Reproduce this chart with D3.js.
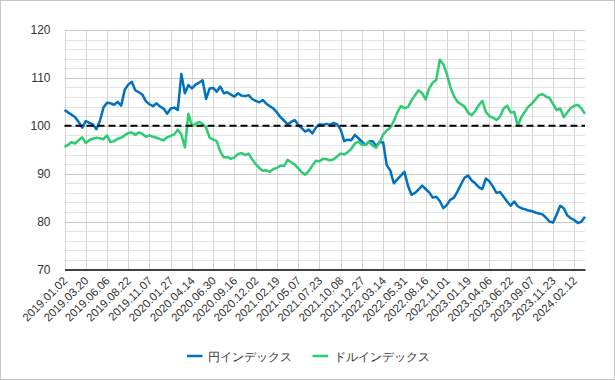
<!DOCTYPE html>
<html>
<head>
<meta charset="utf-8">
<script src="https://cdn.jsdelivr.net/npm/d3@7"></script>
<style>
  html, body { margin: 0; padding: 0; background: #fff; }
  svg { display: block; }
  text { font-family: "Liberation Sans", Arial, sans-serif; }
</style>
</head>
<body>
<div id="chart"></div>
<script>
// ---- data ----
const xLabels = [
  "2019.01.02","2019.03.20","2019.06.06","2019.08.22","2019.11.07",
  "2020.01.27","2020.04.14","2020.06.30","2020.09.16","2020.12.02",
  "2021.02.19","2021.05.07","2021.07.23","2021.10.08","2021.12.27",
  "2022.03.14","2022.05.31","2022.08.16","2022.11.01","2023.01.19",
  "2023.04.06","2023.06.22","2023.09.07","2023.11.23","2024.02.12"
];
const samplesPerLabel = 6;
const seriesNames = ["円インデックス", "ドルインデックス"];
const yenIndex = [
  103.3,102.8,102.3,101.8,100.8,99.6,101.0,100.6,100.3,99.3,
  101.0,103.8,104.8,104.7,104.4,105.0,104.2,107.5,108.6,109.2,
  107.4,107.0,106.5,105.1,104.5,104.1,104.7,104.0,103.6,102.5,
  103.6,103.8,103.3,110.8,106.8,108.5,107.8,108.6,109.0,109.5,
  105.6,107.8,107.9,107.1,108.2,106.8,107.0,106.5,106.1,106.8,
  106.3,106.2,106.4,105.6,105.2,104.9,105.4,104.6,104.1,103.6,
  102.8,101.8,101.1,100.3,100.8,101.2,100.2,99.5,98.8,99.2,
  98.4,99.6,100.3,100.2,100.4,100.2,100.6,100.3,99.2,96.8,
  97.1,97.0,98.1,97.4,96.7,96.0,96.7,96.8,95.8,96.6,
  96.5,91.8,90.7,88.0,88.8,89.6,90.4,87.5,85.6,86.0,
  86.7,87.5,86.8,86.1,85.0,85.2,84.3,82.8,83.5,84.6,
  85.0,86.3,87.8,89.2,89.6,88.6,88.0,87.2,86.8,89.0,
  88.4,87.3,86.0,86.2,85.2,84.2,83.3,84.2,83.2,82.8,
  82.6,82.3,82.2,81.9,81.7,81.5,80.8,80.0,79.8,81.5,
  83.3,82.8,81.3,80.7,80.3,79.7,80.0,81.0
];
const dollarIndex = [
  95.6,96.0,96.6,96.3,97.0,97.6,96.4,97.0,97.3,97.5,
  97.4,97.2,98.0,96.6,96.8,97.3,97.5,98.0,98.5,98.6,
  98.1,98.6,98.3,97.7,98.0,97.7,97.5,97.2,97.0,97.6,
  97.9,98.2,99.2,98.2,95.5,102.5,100.0,100.4,100.8,100.4,
  99.6,97.5,97.1,96.8,94.6,93.4,93.5,93.1,93.4,94.1,
  94.3,93.9,94.2,93.0,92.0,91.2,90.6,90.7,90.4,91.0,
  91.2,91.7,91.6,92.9,92.4,91.9,91.1,90.3,89.8,90.6,
  91.7,92.7,92.6,93.1,93.0,92.8,93.0,93.6,94.2,94.0,
  94.5,95.2,96.3,96.7,96.0,96.1,96.6,95.9,95.4,96.6,
  98.2,99.0,99.6,101.0,102.8,104.1,103.7,103.9,105.3,106.4,
  107.4,106.8,105.5,107.8,109.0,109.6,113.8,112.8,110.8,108.0,
  106.2,105.0,104.5,104.0,102.7,102.2,103.1,104.3,105.2,102.9,
  102.0,101.7,101.2,101.9,103.6,104.2,102.8,102.9,100.0,101.8,
  102.9,104.0,104.6,105.5,106.4,106.6,106.1,105.8,104.5,103.3,
  103.6,101.8,102.8,103.7,104.2,104.4,103.6,102.5
];
const yTicks = [70, 80, 90, 100, 110, 120];
const yMinorStep = 2;
const referenceLevel = 100;
const colors = ["#0070c0", "#2ecc71"];

// ---- layout ----
const W = 615, H = 380;
const plot = { left: 64.5, right: 585, top: 30, bottom: 269.5 };

const svg = d3.select("#chart").append("svg")
  .attr("width", W).attr("height", H);

svg.append("rect")
  .attr("x", 0.5).attr("y", 0.5).attr("width", W - 1).attr("height", H - 1)
  .attr("fill", "#fff").attr("stroke", "#c6c6c6");

const x = d3.scaleLinear().domain([0, yenIndex.length - 1]).range([plot.left, plot.right]);
const y = d3.scaleLinear().domain([d3.min(yTicks), d3.max(yTicks)]).range([plot.bottom, plot.top]);

const g = svg.append("g");

// minor horizontal grid
g.append("g").selectAll("line")
  .data(d3.range(d3.min(yTicks), d3.max(yTicks) + 0.001, yMinorStep).filter(v => !yTicks.includes(v)))
  .join("line")
  .attr("x1", plot.left).attr("x2", plot.right)
  .attr("y1", d => Math.round(y(d)) + 0.5).attr("y2", d => Math.round(y(d)) + 0.5)
  .attr("stroke", "#e4e4e4").attr("stroke-width", 1);

// vertical grid at labels
const labelIdx = xLabels.map((d, i) => i * samplesPerLabel);
g.append("g").selectAll("line")
  .data(labelIdx)
  .join("line")
  .attr("x1", d => Math.round(x(d)) + 0.5).attr("x2", d => Math.round(x(d)) + 0.5)
  .attr("y1", plot.top).attr("y2", plot.bottom)
  .attr("stroke", "#d6d6d6").attr("stroke-width", 1);

// major horizontal grid
g.append("g").selectAll("line")
  .data(yTicks.filter(v => v !== d3.min(yTicks)))
  .join("line")
  .attr("x1", plot.left).attr("x2", plot.right)
  .attr("y1", d => Math.round(y(d)) + 0.5).attr("y2", d => Math.round(y(d)) + 0.5)
  .attr("stroke", "#c8c8c8").attr("stroke-width", 1);

// y-axis labels
const yAxis = d3.axisLeft(y).tickValues(yTicks).tickSize(0).tickPadding(14);
const yAx = svg.append("g").attr("transform", `translate(${plot.left},0)`).call(yAxis);
yAx.select(".domain").remove();
yAx.selectAll("text").attr("font-size", 12).attr("fill", "#333")
  .attr("font-family", "'Liberation Sans', Arial, sans-serif");

// x-axis
const xAxis = d3.axisBottom(x).tickValues(labelIdx)
  .tickFormat((d, i) => xLabels[i]).tickSize(0);
const xAx = svg.append("g").attr("transform", `translate(0,${plot.bottom})`).call(xAxis);
xAx.select(".domain").attr("stroke", "#000").attr("stroke-width", 1.5);
xAx.selectAll("text")
  .attr("font-size", 11.5).attr("fill", "#333")
  .attr("font-family", "'Liberation Sans', Arial, sans-serif")
  .attr("text-anchor", "end")
  .attr("dy", 0).attr("y", 0)
  .attr("transform", "translate(3,12) rotate(-45)");

// series lines
const line = d3.line().x((d, i) => x(i)).y(d => y(d));
[yenIndex, dollarIndex].forEach((s, k) => {
  g.append("path").datum(s)
    .attr("fill", "none").attr("stroke", colors[k])
    .attr("stroke-width", 2.5).attr("stroke-linejoin", "round")
    .attr("d", line);
});

// reference line
g.append("line")
  .attr("x1", plot.left).attr("x2", plot.right)
  .attr("y1", y(referenceLevel)).attr("y2", y(referenceLevel))
  .attr("stroke", "#000").attr("stroke-width", 2)
  .attr("stroke-dasharray", "7,4");

// legend
const legend = svg.append("g").attr("transform", "translate(0,356)");
const legendItems = [
  { name: seriesNames[0], color: colors[0], x: 187 },
  { name: seriesNames[1], color: colors[1], x: 312.5 }
];
legendItems.forEach(it => {
  legend.append("line")
    .attr("x1", it.x).attr("x2", it.x + 15.5)
    .attr("y1", 0).attr("y2", 0)
    .attr("stroke", it.color).attr("stroke-width", 2.5);
  legend.append("text")
    .attr("x", it.x + 21).attr("y", 4.5)
    .attr("font-size", 12).attr("fill", "#333")
    .attr("font-family", "'Noto Sans CJK JP', sans-serif")
    .text(it.name);
});
</script>
</body>
</html>
